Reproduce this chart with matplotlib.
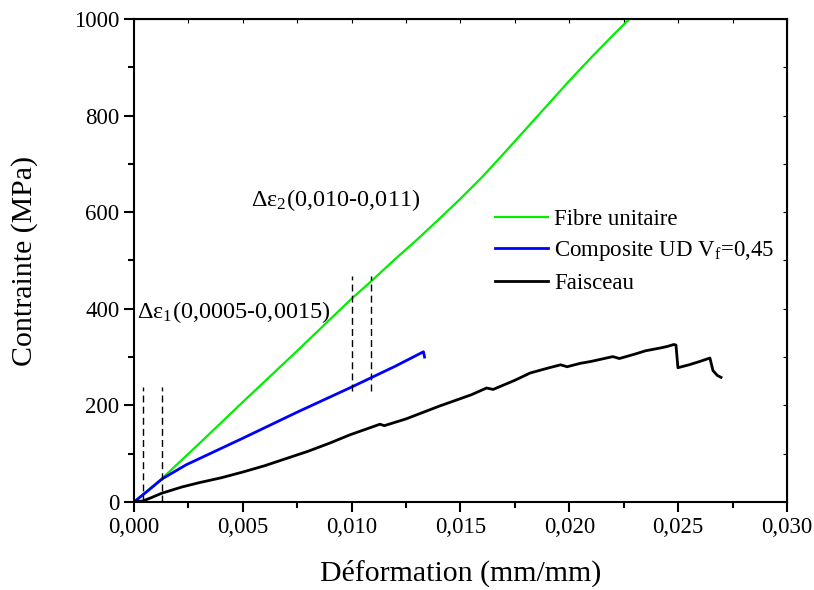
import matplotlib
matplotlib.use('Agg')
import matplotlib.pyplot as plt
from matplotlib.ticker import MultipleLocator, FuncFormatter

plt.rcParams['font.family'] = ['Liberation Serif', 'DejaVu Serif']
plt.rcParams['mathtext.fontset'] = 'custom'
plt.rcParams['mathtext.rm'] = 'Liberation Serif'
plt.rcParams['mathtext.it'] = 'Liberation Serif:italic'

# Fibre unitaire
fibre_x = [0, 0.0005, 0.0013, 0.003, 0.005, 0.0075, 0.010, 0.0108, 0.012, 0.013,
           0.014, 0.015, 0.016, 0.017, 0.018, 0.019, 0.020, 0.021, 0.022, 0.0228]
fibre_y = [0, 19, 49, 121, 207, 313, 421, 453, 503, 543,
           585, 628, 673, 722, 772, 822, 872, 920, 966, 1002]

# Composite UD
comp_x = [0, 0.0005, 0.0013, 0.0024, 0.005, 0.0075, 0.010, 0.012, 0.0133, 0.01335]
comp_y = [0, 18, 48, 77, 132, 186, 238, 281, 311, 300]

# Faisceau
fais_x = [0, 0.0004, 0.0008, 0.00127, 0.0022, 0.003, 0.004, 0.005, 0.006, 0.007,
          0.008, 0.009, 0.00992, 0.0108, 0.0113, 0.0115, 0.0125, 0.014, 0.0155, 0.0162,
          0.0165, 0.0175, 0.0182, 0.019, 0.0196, 0.0199, 0.0205, 0.021, 0.022, 0.0223,
          0.023, 0.0235, 0.0242, 0.0245, 0.0248, 0.0249, 0.02499, 0.0255, 0.026, 0.02646,
          0.0266, 0.0268, 0.02697]
fais_y = [0, 2, 9, 18, 31, 40, 50, 62, 75, 90,
          105, 122, 139, 153, 161, 158, 172, 198, 222, 236,
          233, 252, 267, 277, 284, 280, 287, 291, 301, 297,
          306, 313, 319, 322, 326, 325, 278, 284, 291, 298,
          272, 262, 258]

# dashed strain intervals
d1_x = [0.0004, 0.00127]
d1_y = [0, 239]
d2_x = [0.01003, 0.01087]
d2_y = [230, 468]

fig = plt.figure(figsize=(8.14, 5.90), dpi=100)
ax = fig.add_axes([0.1646, 0.1492, 0.8022, 0.8186])

ax.plot(fibre_x, fibre_y, color='#00ee00', lw=1.6, label='Fibre unitaire')
ax.plot(comp_x, comp_y, color='#0000ff', lw=2.0, label='Composite UD V$_\\mathregular{f}$=0,45')
ax.plot(fais_x, fais_y, color='black', lw=2.0, label='Faisceau')

for x in d1_x:
    ax.plot([x, x], d1_y, color='black', lw=1.0, ls=(0, (5, 3)))
for x in d2_x:
    ax.plot([x, x], d2_y, color='black', lw=1.0, ls=(0, (5, 3)))

ax.text(0.00014, 393, 'Δε$_\\mathregular{1}$(0,0005-0,0015)', fontsize=17.5, va='center', ha='left')
ax.text(0.00537, 625, 'Δε$_\\mathregular{2}$(0,010-0,011)', fontsize=17.5, va='center', ha='left')

ax.set_xlim(0, 0.030)
ax.set_ylim(0, 1000)
ax.xaxis.set_major_locator(MultipleLocator(0.005))
ax.xaxis.set_minor_locator(MultipleLocator(0.0025))
ax.yaxis.set_major_locator(MultipleLocator(200))
ax.yaxis.set_minor_locator(MultipleLocator(100))
ax.xaxis.set_major_formatter(FuncFormatter(lambda v, p: f"{v:.3f}".replace('.', ',')))
ax.yaxis.set_major_formatter(FuncFormatter(lambda v, p: f"{v:.0f}"))

ax.tick_params(which='major', direction='out', length=7, width=1.5, labelsize=16.5,
               top=False, right=False)
ax.tick_params(which='minor', direction='out', length=4, width=1.5, top=False, right=False)
for s in ax.spines.values():
    s.set_linewidth(1.5)

# small inward ticks on top and right
ax2 = ax.secondary_xaxis('top')
ax2.xaxis.set_major_locator(MultipleLocator(0.0025))
ax2.tick_params(direction='in', length=3, width=0.8, labeltop=False)
ax3 = ax.secondary_yaxis('right')
ax3.yaxis.set_major_locator(MultipleLocator(100))
ax3.tick_params(direction='in', length=3, width=0.8, labelright=False)

ax.set_xlabel('Déformation (mm/mm)', fontsize=21.5, labelpad=16)
ax.set_ylabel('Contrainte (MPa)', fontsize=21.5, labelpad=26)

ax.legend(loc='upper left', bbox_to_anchor=(0.535, 0.63), frameon=False, fontsize=16.5,
          handlelength=2.3, handletextpad=0.3, labelspacing=0.4, borderpad=0)

fig.savefig('out.png', dpi=100)
